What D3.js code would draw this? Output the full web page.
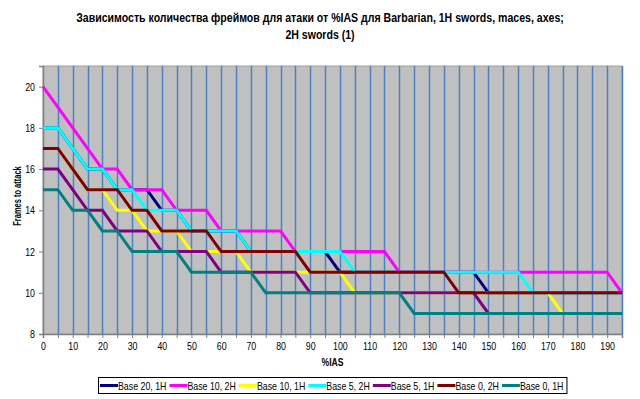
<!DOCTYPE html>
<html>
<head>
<meta charset="utf-8">
<script src="https://cdn.jsdelivr.net/npm/d3@7"></script>
<style>
    html, body { margin: 0; padding: 0; background: #fff; }
    svg { display: block; font-family: 'Liberation Sans', Arial, sans-serif; }
</style>
</head>
<body>
<div id="chart"></div>
<script>
const WIDTH = 640;
const HEIGHT = 399;
const MARGIN = { top: 66, right: 18, bottom: 65, left: 43 };

const TITLE_LINES = [
    'Зависимость количества фреймов для атаки от %IAS для Barbarian, 1H swords, maces, axes;',
    '2H swords (1)'
];

// %IAS, step 5
const IAS = d3.range(0, 200, 5);
const X_TICKS = d3.range(0, 200, 10);
const Y_TICKS = [8, 10, 12, 14, 16, 18, 20];

const base20_1H = [18, 18, 17, 16, 16, 15, 15, 15, 14, 14, 13, 13, 13, 13, 12, 12, 12, 12, 12, 12,
                   11, 11, 11, 11, 11, 11, 11, 11, 11, 11, 10, 10, 10, 10, 10, 10, 10, 10, 10, 10];
const base10_2H = [20, 19, 18, 17, 16, 16, 15, 15, 15, 14, 14, 14, 13, 13, 13, 13, 13, 12, 12, 12,
                   12, 12, 12, 12, 11, 11, 11, 11, 11, 11, 11, 11, 11, 11, 11, 11, 11, 11, 11, 10];
const base10_1H = [17, 17, 16, 15, 15, 14, 14, 13, 13, 13, 12, 12, 12, 12, 11, 11, 11, 11, 11, 11,
                   11, 10, 10, 10, 10, 10, 10, 10, 10, 10, 10, 10, 10, 10, 10, 9, 9, 9, 9, 9];
const base5_2H  = [18, 18, 17, 16, 16, 15, 15, 14, 14, 14, 13, 13, 13, 13, 12, 12, 12, 12, 12, 12,
                   12, 11, 11, 11, 11, 11, 11, 11, 11, 11, 11, 11, 11, 10, 10, 10, 10, 10, 10, 10];
const base5_1H  = [16, 16, 15, 14, 14, 13, 13, 13, 12, 12, 12, 12, 11, 11, 11, 11, 11, 11, 10, 10,
                   10, 10, 10, 10, 10, 10, 10, 10, 10, 10, 9, 9, 9, 9, 9, 9, 9, 9, 9, 9];
const base0_2H  = [17, 17, 16, 15, 15, 15, 14, 14, 13, 13, 13, 13, 12, 12, 12, 12, 12, 12, 11, 11,
                   11, 11, 11, 11, 11, 11, 11, 11, 10, 10, 10, 10, 10, 10, 10, 10, 10, 10, 10, 10];
const base0_1H  = [15, 15, 14, 14, 13, 13, 12, 12, 12, 12, 11, 11, 11, 11, 11, 10, 10, 10, 10, 10,
                   10, 10, 10, 10, 10, 9, 9, 9, 9, 9, 9, 9, 9, 9, 9, 9, 9, 9, 9, 9];

const SERIES = [
    { name: 'Base 20, 1H', color: '#000080', values: base20_1H },
    { name: 'Base 10, 2H', color: '#ff00ff', values: base10_2H },
    { name: 'Base 10, 1H', color: '#ffff00', values: base10_1H },
    { name: 'Base 5, 2H',  color: '#00ffff', values: base5_2H },
    { name: 'Base 5, 1H',  color: '#800080', values: base5_1H },
    { name: 'Base 0, 2H',  color: '#800000', values: base0_2H },
    { name: 'Base 0, 1H',  color: '#008080', values: base0_1H }
];

// the original uses a narrow font, squeeze the glyphs a bit
const condense = (sel, factor) => sel.each(function () {
    const len = this.getComputedTextLength();
    d3.select(this)
        .attr('textLength', len * factor)
        .attr('lengthAdjust', 'spacingAndGlyphs');
});

const svg = d3.select('#chart').append('svg')
    .attr('width', WIDTH)
    .attr('height', HEIGHT);

const x = d3.scaleLinear()
    .domain([0, 195])
    .range([MARGIN.left, WIDTH - MARGIN.right]);
const y = d3.scaleLinear()
    .domain([8, 21])
    .range([HEIGHT - MARGIN.bottom, MARGIN.top]);

// title
svg.append('g')
    .selectAll('text')
    .data(TITLE_LINES)
    .join('text')
    .attr('x', 320)
    .attr('y', (d, i) => 22 + i * 17)
    .attr('text-anchor', 'middle')
    .attr('font-size', 12)
    .attr('font-weight', 'bold')
    .text(d => d)
    .call(condense, 0.88);

// plot background
svg.append('rect')
    .attr('x', x(0))
    .attr('y', y(21))
    .attr('width', x(195) - x(0))
    .attr('height', y(8) - y(21))
    .attr('fill', '#c0c0c0')
    .attr('stroke', '#a0a0a0')
    .attr('stroke-width', 1);

// vertical grid
svg.append('g')
    .selectAll('line')
    .data(IAS.filter(d => d > 0))
    .join('line')
    .attr('x1', d => Math.round(x(d)) + 0.5)
    .attr('x2', d => Math.round(x(d)) + 0.5)
    .attr('y1', y(21))
    .attr('y2', y(8))
    .attr('stroke', '#4a82c8')
    .attr('stroke-width', 1.5);

// axes
const xAxis = svg.append('g')
    .attr('transform', `translate(0, ${y(8)})`)
    .call(d3.axisBottom(x).tickValues(IAS).tickSize(4).tickFormat(''));
const xLabels = svg.append('g')
    .attr('transform', `translate(0, ${y(8)})`)
    .call(d3.axisBottom(x).tickValues(X_TICKS).tickSize(0).tickPadding(8).tickFormat(d3.format('d')));
xLabels.select('.domain').remove();

const yAxis = svg.append('g')
    .attr('transform', `translate(${x(0)}, 0)`)
    .call(d3.axisLeft(y).tickValues(Y_TICKS).tickSize(4).tickPadding(4));

[xAxis, yAxis].forEach(ax => {
    ax.select('.domain').attr('stroke', '#808080').attr('stroke-width', 1.5);
    ax.selectAll('.tick line').attr('stroke', '#808080');
});
svg.selectAll('.tick text')
    .attr('font-size', 11)
    .attr('font-family', "'Liberation Sans', Arial, sans-serif")
    .attr('fill', '#000')
    .call(condense, 0.8);

// axis titles
svg.append('text')
    .attr('x', (x(0) + x(195)) / 2)
    .attr('y', 366)
    .attr('text-anchor', 'middle')
    .attr('font-size', 11)
    .attr('font-weight', 'bold')
    .text('%IAS')
    .call(condense, 0.78);

svg.append('text')
    .attr('transform', `translate(21, ${(y(8) + y(21)) / 2 - 4}) rotate(-90)`)
    .attr('text-anchor', 'middle')
    .attr('font-size', 11)
    .attr('font-weight', 'bold')
    .text('Frames to attack')
    .call(condense, 0.68);

// lines
const line = d3.line()
    .x((d, i) => x(IAS[i]))
    .y(d => y(d));

svg.append('g')
    .selectAll('path')
    .data(SERIES)
    .join('path')
    .attr('d', d => line(d.values))
    .attr('fill', 'none')
    .attr('stroke', d => d.color)
    .attr('stroke-width', 3)
    .attr('stroke-linejoin', 'miter');

// legend
const legend = svg.append('g');
const legendBox = legend.append('rect')
    .attr('fill', '#fff')
    .attr('stroke', '#000')
    .attr('stroke-width', 1);

let cursor = 100;
const legendY = 385.5;
SERIES.forEach(s => {
    legend.append('line')
        .attr('x1', cursor)
        .attr('x2', cursor + 18)
        .attr('y1', legendY)
        .attr('y2', legendY)
        .attr('stroke', s.color)
        .attr('stroke-width', 3);
    const t = legend.append('text')
        .attr('x', cursor + 18)
        .attr('y', legendY + 4)
        .attr('font-size', 11)
        .text(s.name)
        .call(condense, 0.8);
    cursor += 18 + +t.attr('textLength') + 3;
});
legendBox
    .attr('x', 98.5)
    .attr('y', 377.5)
    .attr('width', cursor - 98)
    .attr('height', 16);
</script>
</body>
</html>
